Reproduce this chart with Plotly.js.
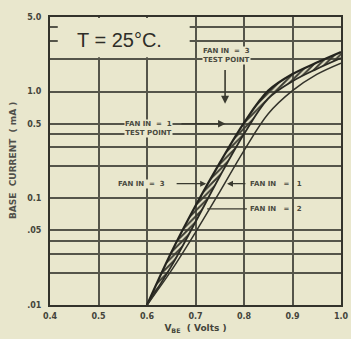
<!DOCTYPE html>
<html>
<head>
<meta charset="utf-8">
<script src="https://cdn.plot.ly/plotly-3.0.1.min.js"></script>
<style>html,body{margin:0;padding:0;background:#e9e7cd;}#chart{width:351px;height:339px;}</style>
</head>
<body>
<div id="chart"></div>
<script>
// Data
const vbe = [0.60, 0.65, 0.70, 0.75, 0.80, 0.85, 0.90, 0.95, 1.00];
const fanIn3 = [0.010, 0.031, 0.085, 0.215, 0.51, 1.02, 1.46, 1.87, 2.35];
const fanIn1 = [0.010, 0.023, 0.060, 0.160, 0.40, 0.86, 1.25, 1.63, 2.06];
const fanIn2 = [0.010, 0.021, 0.048, 0.115, 0.28, 0.62, 1.02, 1.45, 1.85];

const xTickVals = [0.4, 0.5, 0.6, 0.7, 0.8, 0.9, 1.0];
const xTickText = ['0.4', '0.5', '0.6', '0.7', '0.8', '0.9', '1.0'];
const yTickVals = [0.01, 0.02, 0.03, 0.04, 0.05, 0.1, 0.2, 0.3, 0.4, 0.5, 1, 2, 3, 4, 5];
const yTickText = ['.01', '', '', '', '.05', '0.1', '', '', '', '0.5', '1.0', '', '', '', '5.0'];

const bg = '#e9e7cd';
const grid = '#55554a';
const font = 'DejaVu Sans';
const L = v => Math.log10(v);

const traces = [
  {x: vbe, y: fanIn1, name: 'FAN IN = 1', mode: 'lines',
   line: {color: '#2b2b24', width: 1.8, shape: 'spline'}},
  {x: vbe, y: fanIn3, name: 'FAN IN = 3', mode: 'lines',
   line: {color: '#24241e', width: 2.2, shape: 'spline'},
   fill: 'tonexty', fillcolor: 'rgba(80,80,65,0.4)',
   fillpattern: {shape: '/', fgcolor: '#3a3a30', bgcolor: 'rgba(0,0,0,0)', size: 4, solidity: 0.5}},
  {x: vbe, y: fanIn2, name: 'FAN IN = 2', mode: 'lines',
   line: {color: '#33332b', width: 1.5, shape: 'spline'}}
];

const smallFont = {family: font, size: 7, color: '#4a4a40', weight: 'bold'};
const arrowCol = '#3a3a30';

const annotations = [
  {x: 0.452, y: L(3.05), xref: 'x', yref: 'y', text: 'T = 25°C.', showarrow: false,
   font: {family: 'Liberation Sans', size: 20, color: '#2e2e28'}, xanchor: 'left', yanchor: 'middle'},
  {x: 0.763, y: L(2.2), xref: 'x', yref: 'y', text: 'FAN IN  =  3<br>TEST POINT', showarrow: false,
   font: smallFont, bgcolor: bg, borderpad: 0},
  {x: 0.761, y: L(0.77), ax: 0.761, ay: L(1.65), xref: 'x', yref: 'y', axref: 'x', ayref: 'y',
   text: '', showarrow: true, arrowhead: 2, arrowsize: 1, arrowwidth: 1.6, arrowcolor: arrowCol},
  {x: 0.604, y: L(0.454), xref: 'x', yref: 'y', text: 'FAN IN  =  1<br>TEST POINT', showarrow: false,
   font: smallFont, bgcolor: bg, borderpad: 0},
  {x: 0.762, y: L(0.5), ax: 0.668, ay: L(0.5), xref: 'x', yref: 'y', axref: 'x', ayref: 'y',
   text: '', showarrow: true, arrowhead: 2, arrowsize: 1, arrowwidth: 1.5, arrowcolor: arrowCol},
  {x: 0.589, y: L(0.137), xref: 'x', yref: 'y', text: 'FAN IN  =  3', showarrow: false,
   font: smallFont, bgcolor: bg, borderpad: 0},
  {x: 0.722, y: L(0.137), ax: 0.658, ay: L(0.137), xref: 'x', yref: 'y', axref: 'x', ayref: 'y',
   text: '', showarrow: true, arrowhead: 2, arrowsize: 1, arrowwidth: 1.2, arrowcolor: arrowCol},
  {x: 0.809, y: L(0.137), xref: 'x', yref: 'y', text: 'FAN IN   =   1', showarrow: false,
   font: smallFont, xanchor: 'left'},
  {x: 0.765, y: L(0.137), ax: 0.806, ay: L(0.137), xref: 'x', yref: 'y', axref: 'x', ayref: 'y',
   text: '', showarrow: true, arrowhead: 2, arrowsize: 1, arrowwidth: 1.2, arrowcolor: arrowCol},
  {x: 0.809, y: L(0.0796), xref: 'x', yref: 'y', text: 'FAN IN   =   2', showarrow: false,
   font: smallFont, xanchor: 'left'},
  {x: 0, y: 0.5, xref: 'paper', yref: 'paper', text: 'BASE  CURRENT  ( mA )', showarrow: false,
   textangle: -90, font: {family: font, size: 9, color: '#50504a', weight: 'bold'},
   xanchor: 'center', yanchor: 'middle', xshift: -37}
];

const shapes = [
  // label box area hides the grid (shape coordinates on a log axis are data values)
  {type: 'rect', xref: 'x', yref: 'y', x0: 0.416, x1: 0.688, y0: 2.1, y1: 4.9, layer: 'between',
   fillcolor: bg, line: {width: 0}},
  // leader line for FAN IN = 2
  {type: 'line', xref: 'x', yref: 'y', x0: 0.724, x1: 0.806, y0: 0.0796, y1: 0.0796,
   line: {color: arrowCol, width: 1.2}}
];

const layout = {
  width: 351, height: 339,
  margin: {l: 50, r: 10, t: 17, b: 34, pad: 0},
  paper_bgcolor: bg, plot_bgcolor: bg,
  showlegend: false,
  xaxis: {
    range: [0.4, 1.0], tickvals: xTickVals, ticktext: xTickText,
    showgrid: true, gridcolor: grid, gridwidth: 2, zeroline: false,
    showline: true, mirror: true, linecolor: '#33332b', linewidth: 2,
    ticks: '', ticklabelstandoff: 2,
    tickfont: {family: font, size: 8, color: '#44443a', weight: 'bold'},
    title: {text: 'V<sub>BE</sub>  ( Volts )', font: {family: font, size: 9, color: '#44443a', weight: 'bold'}, standoff: 5}
  },
  yaxis: {
    type: 'log', range: [-2, Math.log10(5)], tickvals: yTickVals, ticktext: yTickText,
    showgrid: true, gridcolor: grid, gridwidth: 2, zeroline: false,
    showline: true, mirror: true, linecolor: '#33332b', linewidth: 2,
    ticks: '', ticklabelstandoff: 5,
    tickfont: {family: font, size: 8, color: '#44443a', weight: 'bold'}
  },
  annotations: annotations,
  shapes: shapes
};

Plotly.newPlot('chart', traces, layout, {displayModeBar: false, staticPlot: true});
</script>
</body>
</html>
